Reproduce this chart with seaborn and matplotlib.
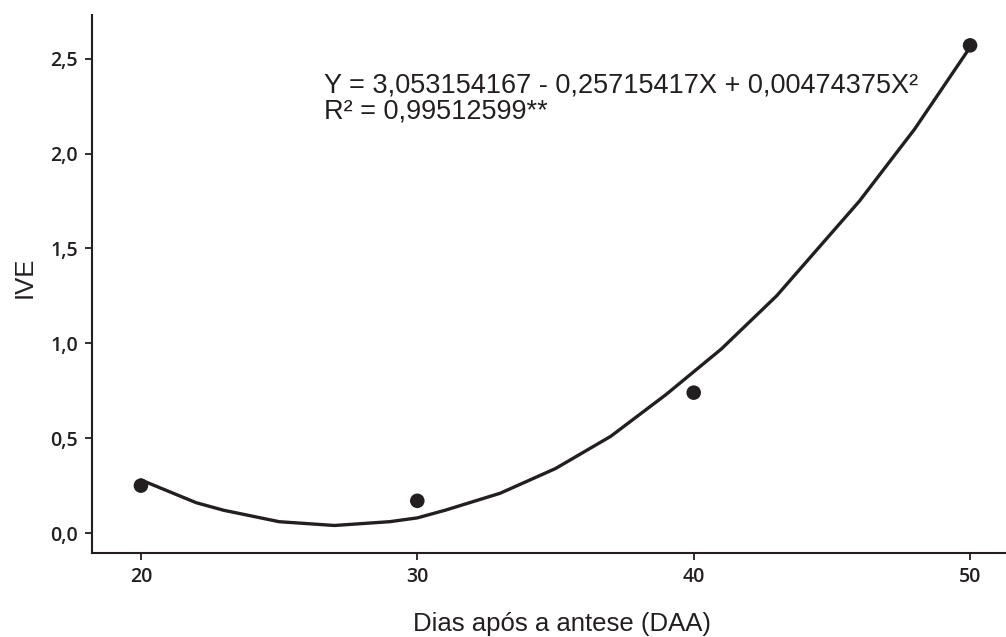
import numpy as np
import pandas as pd
import matplotlib
matplotlib.use("Agg")
import matplotlib.pyplot as plt
import seaborn as sns
from matplotlib.ticker import FuncFormatter

# Observed points (DAA vs IVE)
dias = [20, 30, 40, 50]
ive = [0.25, 0.17, 0.74, 2.57]

# Fitted curve at its vertices
curva_x = [20, 22, 23, 25, 27, 29, 30, 31, 33, 35, 37, 39, 41, 43, 46, 48, 50]
curva_y = [0.28, 0.16, 0.12, 0.06, 0.04, 0.06, 0.08, 0.12, 0.21, 0.34, 0.51, 0.73,
           0.97, 1.25, 1.75, 2.13, 2.56]

x_ticks = [20, 30, 40, 50]
y_ticks = [0.0, 0.5, 1.0, 1.5, 2.0, 2.5]

eq_text = "Y = 3,053154167 - 0,25715417X + 0,00474375X²\nR² = 0,99512599**"

sns.set_style("ticks")
plt.rcParams["font.family"] = ["Liberation Sans", "DejaVu Sans"]
ink = "#231f20"

pts = pd.DataFrame({"DAA": dias, "IVE": ive})
fit = pd.DataFrame({"DAA": curva_x, "IVE": curva_y})

fig = plt.figure(figsize=(10.06, 6.37), dpi=100)
ax = fig.add_axes([92 / 1006, (637 - 553) / 637, (1006 - 92) / 1006, (553 - 15) / 637])

sns.lineplot(data=fit, x="DAA", y="IVE", ax=ax, color=ink, linewidth=2.4, sort=False)
sns.scatterplot(data=pts, x="DAA", y="IVE", ax=ax, color=ink, s=110, edgecolor="none", zorder=3)

ax.set_xlim(18.23, 51.3)
ax.set_ylim(-0.105, 2.73)
ax.set_xticks(x_ticks)
ax.set_yticks(y_ticks)
ax.yaxis.set_major_formatter(FuncFormatter(lambda v, p: f"{v:.1f}".replace(".", ",")))

for side in ["top", "right"]:
    ax.spines[side].set_visible(False)
for side in ["left", "bottom"]:
    ax.spines[side].set_linewidth(1.5)
    ax.spines[side].set_color(ink)

ax.tick_params(axis="both", length=5, width=1.3, color=ink, labelcolor=ink, labelsize=14, pad=5)
for lab in ax.get_xticklabels() + ax.get_yticklabels():
    lab.set_family(["Open Sans", "DejaVu Sans"])
    lab.set_fontweight("semibold")

ax.set_xlabel("")
ax.set_ylabel("")
fig.text(562 / 1006, 1 - 624 / 637, "Dias após a antese (DAA)", ha="center", va="center",
         fontsize=18.5, color=ink)
fig.text(25 / 1006, 1 - 277 / 637, "IVE", ha="center", va="center", rotation=90,
         fontsize=18.5, color=ink)
fig.text(324 / 1006, 1 - 73 / 637, eq_text, ha="left", va="top", fontsize=19.5,
         color=ink, linespacing=1.0)

fig.savefig("out.png", dpi=100)
